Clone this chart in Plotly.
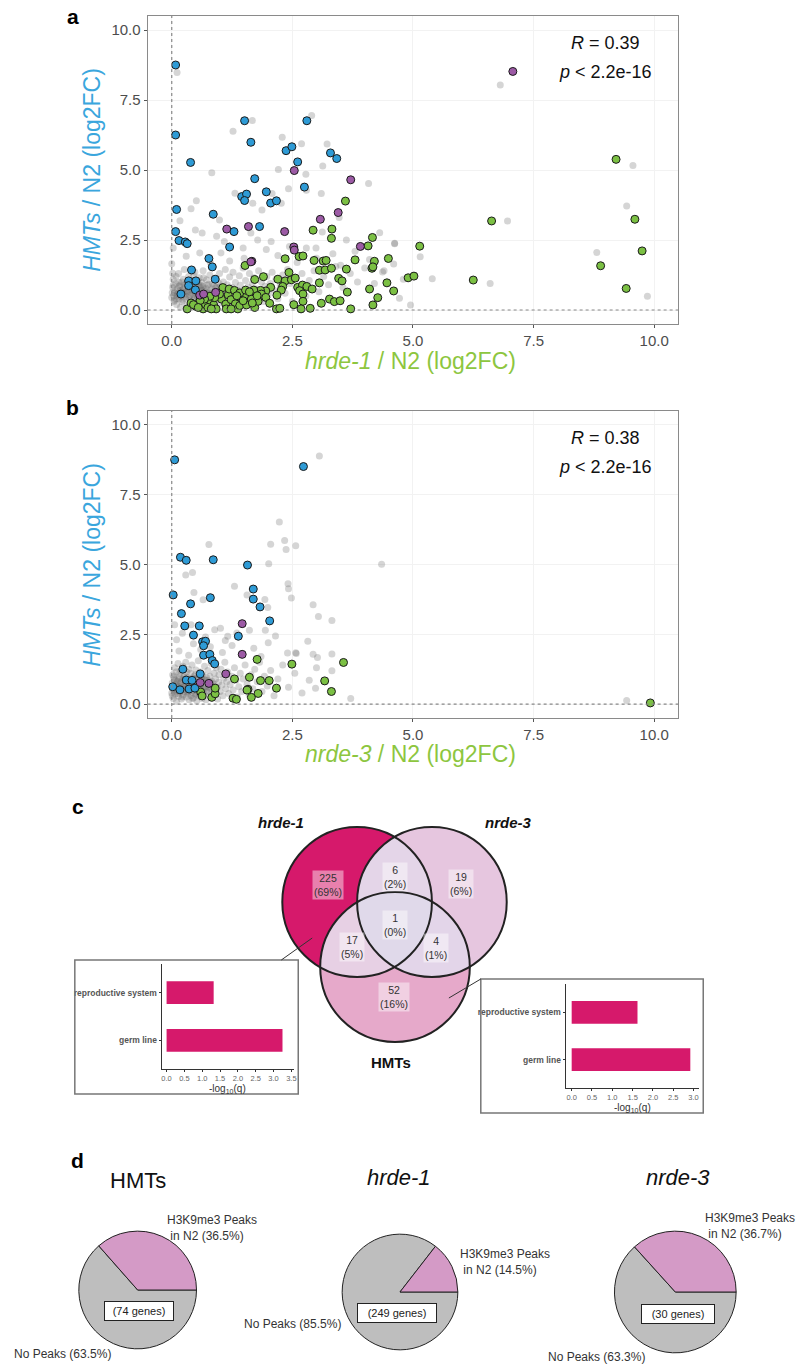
import numpy as np
import plotly.graph_objects as go

W, H = 800, 1370

# ---------------- data ----------------
main_ticks = [0, 2.5, 5, 7.5, 10]

a_blue = [(0.08,8.75),(0.08,6.25),(1.51,6.76),(2.80,6.76),(1.64,5.99),(0.39,5.27),(2.37,5.69),(2.49,5.83),
          (3.29,5.61),(3.42,5.41),(2.61,5.29),(2.75,4.39),(1.72,4.69),(1.45,4.05),(1.55,4.14),(1.51,3.91),
          (1.96,4.22),(2.05,3.82),(2.17,3.90),(0.10,3.59),(0.86,3.42),(0.08,2.80),(1.29,2.80),(1.82,2.98),
          (0.15,2.48),(0.28,2.43),(0.32,2.37),(1.20,2.25),(0.41,1.43),(0.77,1.84),(0.84,1.54),(0.35,1.04),
          (0.50,1.04),(0.90,1.10),(0.35,0.87),(0.49,0.72),(0.19,0.57)]
a_purple = [(7.07,8.52),(2.54,4.98),(3.71,4.65),(3.45,3.48),(3.08,3.24),(1.14,2.89),(1.59,2.98),(2.34,2.80),
            (2.53,2.25),(2.54,2.14),(1.66,1.74),(1.64,1.72),(3.91,2.27),(0.58,0.53),(0.66,0.57),(0.91,0.63)]
a_green = [(6.63,3.18),(9.60,3.24),(9.75,2.11),(8.89,1.58),(9.42,0.77),(6.25,1.07),(5.14,2.28),(4.90,1.15),
           (5.02,1.21),(4.49,1.84),(4.46,0.97),(4.60,0.68),(9.21,5.38),
           (3.60,3.89),(2.93,2.85),(3.32,2.89),(3.31,2.56),(4.16,2.59),(4.07,2.29),(2.35,1.83),(2.64,1.91),
           (2.72,1.93),(2.95,1.77),(3.14,1.75),(3.20,1.77),(3.80,1.79),(4.20,1.74),(4.15,1.49),(4.17,1.54),
           (3.06,1.42),(3.18,1.43),(3.31,1.49),(3.46,1.13),(3.62,1.46),(1.52,1.59),(1.72,1.09),(1.90,1.19),
           (2.20,1.10),(2.35,1.04),(2.48,1.08),(2.56,1.14),(2.43,1.34),(3.06,0.97),(3.53,1.04),(3.64,0.64),
           (4.10,0.75),(4.27,0.44),(2.61,0.81),(2.71,0.89),(2.80,0.84),(2.91,0.75),(2.65,0.69),(2.72,0.57),
           (2.30,0.84),(2.27,0.71),(2.05,0.81),(1.95,0.68),(1.84,0.70),(1.70,0.71),(2.18,0.53),(2.53,0.19),
           (2.72,0.31),(2.17,0.04),(2.24,0.06),(2.68,0.04),(2.87,0.06),(3.10,0.24),(3.27,0.39),(3.37,0.30),
           (3.49,0.33),(3.71,0.04),(4.17,0.18),
           (0.32,0.04),(0.40,0.25),(0.50,0.13),(0.57,0.27),(0.65,0.04),(0.70,0.20),(0.80,0.33),(0.87,0.18),
           (0.92,0.04),(1.03,0.39),(1.12,0.21),(1.17,0.54),(1.23,0.37),(1.32,0.22),(1.37,0.04),(1.44,0.44),
           (1.55,0.51),(1.65,0.39),(1.72,0.09),(1.79,0.31),(1.86,0.57),(1.95,0.45),(2.03,0.24),(1.06,0.80),
           (1.19,0.75),(1.30,0.70),(1.41,0.61),(1.53,0.71),(1.61,0.65),(0.99,0.57),(0.89,0.44),(0.79,0.49),
           (0.68,0.39),(0.59,0.34),(0.45,0.19),(0.55,0.09),(0.75,0.09),(0.82,0.04),(1.13,0.04),(1.23,0.04),
           (1.41,0.16),(1.55,0.18),(1.67,0.25),(1.77,0.51),(1.35,0.51),(1.48,0.33)]
a_gray = [(0.00,0.45),(0.02,0.80),(0.03,1.10),(0.05,0.30),(0.06,0.62),(0.08,0.95),(0.10,0.20),(0.11,0.50),
          (0.12,0.75),(0.14,1.30),(0.15,0.40),(0.17,0.88),(0.18,0.10),(0.20,0.65),(0.21,1.00),(0.23,0.35),
          (0.25,0.78),(0.26,1.45),(0.28,0.55),(0.30,0.92),(0.31,0.15),(0.33,0.70),(0.35,1.20),(0.36,0.45),
          (0.38,0.85),(0.40,0.25),(0.41,0.60),(0.43,1.05),(0.45,0.72),(0.46,0.38),(0.48,1.35),(0.50,0.90),
          (0.52,0.50),(0.53,0.12),(0.55,0.68),(0.57,1.15),(0.58,0.82),(0.60,0.32),(0.62,0.98),(0.63,0.58),
          (0.65,1.40),(0.67,0.75),(0.68,0.22),(0.70,0.48),(0.72,1.08),(0.74,0.88),(0.75,0.62),(0.77,0.30),
          (0.79,1.25),(0.80,0.70),(0.82,0.45),(0.84,0.95),(0.86,1.55),(0.87,0.15),(0.89,0.60),(0.91,0.80),
          (0.93,1.12),(0.95,0.40),(0.97,0.68),(0.99,1.30),(1.01,0.85),(1.03,0.25),(1.05,0.55),(1.07,1.00),
          (1.09,0.72),(1.11,1.45),(1.13,0.35),(1.15,0.90),(1.18,0.62),(1.20,1.18),(1.22,0.42),(1.25,0.80),
          (1.27,1.35),(1.30,0.55),(1.32,0.98),(1.35,0.28),(1.37,0.70),(1.40,1.22),(1.42,0.88),(1.45,0.48),
          (1.48,1.50),(1.50,0.65),(1.53,1.05),(1.56,0.38),(1.58,0.82),(1.61,1.30),(1.64,0.58),(1.67,0.95),
          (1.70,1.15),(1.73,0.45),(1.76,0.75),(1.80,1.40),(1.83,0.62),(1.86,1.00),(1.90,0.30),(1.93,0.85),
          (1.97,1.20),(2.00,0.55),(2.04,0.95),(2.08,1.35),(2.12,0.70),(2.16,1.10),(2.20,0.40),(2.25,0.88),
          (2.30,1.25),(2.35,0.60),(2.40,1.45),(2.45,0.95),(2.50,0.30),(2.55,1.15),(2.62,0.75),(2.70,1.30),
          (2.78,0.50),(2.85,1.05),(2.95,1.40),(3.05,0.65),(3.15,1.20),(3.25,0.90),(3.40,1.55),(3.55,0.80),
          (3.70,1.30),(3.85,1.00),(4.00,1.50),(4.20,0.95),(4.40,1.40),(4.80,1.10),
          (0.04,0.52),(0.07,0.70),(0.09,0.40),(0.13,0.60),(0.16,0.85),(0.19,0.48),(0.22,0.72),(0.24,0.58),
          (0.27,0.90),(0.29,0.40),(0.32,0.65),(0.34,0.80),(0.37,0.52),(0.39,0.95),(0.42,0.68),(0.44,0.55),
          (0.47,0.80),(0.49,0.62),(0.51,0.75),(0.54,0.42),(0.56,0.90),(0.59,0.55),(0.61,0.72),(0.64,0.85),
          (0.66,0.50),(0.69,0.65),(0.71,0.78),(0.73,0.40),(0.76,0.92),(0.78,0.55),(0.81,0.60),(0.83,0.75),
          (0.85,0.52),(0.88,0.88),(0.90,0.65),(0.92,0.50),(0.94,0.80),(0.96,0.58),(0.98,0.95),(1.00,0.62),
          (0.01,0.62),(0.03,0.88),(0.06,0.35),(0.09,1.20),(0.12,0.55),(0.15,0.98),(0.18,0.70),(0.21,0.30),
          (0.24,1.10),(0.27,0.65),(0.30,0.48),(0.33,1.00),(0.36,0.75),(0.39,0.35),(0.42,0.85),(0.45,1.25),
          (0.48,0.45),(0.51,0.65),(0.54,1.05),(0.57,0.38),(0.60,0.88),(0.63,0.70),(0.66,1.15),(0.69,0.30),
          (0.17,3.19),(0.49,2.86),(0.63,2.75),(0.93,2.63),(1.09,2.45),(1.64,2.75),(1.78,2.50),(2.06,2.45),
          (2.44,2.27),(2.79,2.21),(2.99,2.21),(3.34,2.01),(3.62,2.50),(1.96,2.16),(1.48,2.21),(1.02,2.04),
          (0.58,2.04),(0.30,1.92),(0.03,2.21),(0.00,1.65),(0.02,1.31),(0.99,3.21),(3.12,2.79),(3.47,3.30),
          (4.31,2.76),(4.62,2.38),(1.87,3.57),(1.68,3.81),(2.27,3.81),(0.40,3.62),(0.51,3.90),(1.31,4.17),
          (2.08,4.16),(2.42,4.33),(2.79,4.28),(3.10,4.16),(0.83,4.90),(2.21,5.02),(2.78,4.85),(3.13,5.14),
          (4.08,4.52),(1.27,6.38),(2.29,6.17),(2.69,5.94),(3.22,5.93),(0.11,8.48),(1.67,6.77),(2.90,6.95),
          (6.81,8.04),(9.56,5.16),(9.43,3.71),(8.81,2.05),(6.96,3.18),(4.62,2.37),(5.15,1.90),(4.60,1.64),
          (4.37,1.36),(5.40,1.12),(6.60,0.95),(4.72,0.42),(4.95,0.18),(9.86,0.49),(1.20,1.75),(2.60,1.70),
          (3.00,1.85),(3.80,2.10),(1.50,1.85),(0.80,1.70),(2.20,1.95),(4.10,1.80),(3.50,1.60)]

b_blue = [(0.06,8.75),(2.73,8.51),(0.18,5.26),(0.30,5.15),(0.86,5.17),(1.57,4.98),(0.03,3.91),(0.80,3.81),
          (1.69,4.12),(1.69,3.76),(1.83,3.48),(0.39,3.59),(0.20,3.24),(0.27,2.80),(0.57,2.80),(0.45,2.47),
          (2.03,2.98),(1.38,2.43),(0.64,2.23),(0.70,2.25),(0.66,2.09),(0.66,1.75),(0.79,1.78),(0.84,1.56),
          (0.89,1.44),(0.23,1.25),(0.59,1.08),(0.30,0.86),(0.42,0.85),(0.02,0.62),(0.17,0.51),(0.36,0.54),
          (0.48,0.57)]
b_purple = [(1.46,2.88),(1.46,1.78),(1.12,1.08),(0.59,0.77),(0.77,0.74)]
b_green = [(1.77,1.60),(2.49,1.43),(3.56,1.49),(1.30,0.90),(1.61,0.96),(1.84,0.84),(2.02,0.84),(1.58,0.53),
           (1.56,0.50),(1.79,0.38),(2.17,0.57),(3.17,0.83),(3.31,0.45),(1.65,0.24),(1.27,0.21),(1.34,0.17),
           (0.60,0.43),(0.63,0.29),(0.83,0.24),(0.90,0.37),(0.90,0.57),(9.92,0.04)]
b_gray = [(0.00,0.40),(0.01,0.75),(0.02,1.05),(0.03,0.20),(0.04,0.58),(0.05,0.90),(0.06,1.30),(0.07,0.35),
          (0.08,0.68),(0.09,1.15),(0.10,0.10),(0.11,0.50),(0.12,0.82),(0.13,1.45),(0.14,0.28),(0.15,0.62),
          (0.16,0.98),(0.17,0.42),(0.18,0.75),(0.19,1.20),(0.20,0.18),(0.21,0.55),(0.22,0.88),(0.23,1.35),
          (0.24,0.32),(0.25,0.70),(0.26,1.02),(0.27,0.45),(0.28,0.80),(0.29,1.50),(0.30,0.25),(0.31,0.60),
          (0.32,0.95),(0.33,0.38),(0.34,0.72),(0.35,1.25),(0.36,0.15),(0.37,0.52),(0.38,0.85),(0.39,1.10),
          (0.40,0.30),(0.41,0.65),(0.42,1.40),(0.43,0.48),(0.44,0.78),(0.45,0.22),(0.46,1.00),(0.47,0.58),
          (0.48,0.90),(0.49,0.35),(0.50,1.22),(0.51,0.70),(0.52,0.12),(0.53,0.45),(0.54,0.95),(0.55,1.55),
          (0.56,0.62),(0.57,0.28),(0.58,0.82),(0.59,1.15),(0.60,0.50),(0.62,0.75),(0.63,0.20),(0.64,1.05),
          (0.66,0.40),(0.67,0.88),(0.68,1.35),(0.70,0.60),(0.71,0.15),(0.72,0.95),(0.74,0.45),(0.75,1.20),
          (0.76,0.70),(0.78,0.30),(0.79,1.00),(0.80,0.55),(0.82,1.45),(0.83,0.82),(0.85,0.25),(0.86,0.65),
          (0.88,1.10),(0.89,0.40),(0.91,0.90),(0.92,1.30),(0.94,0.58),(0.95,0.18),(0.97,0.78),(0.98,1.05),
          (1.00,0.45),(1.02,1.25),(1.04,0.68),(1.06,0.30),(1.08,0.92),(1.10,1.50),(1.12,0.55),(1.14,0.80),
          (1.16,1.15),(1.18,0.38),(1.21,0.70),(1.24,1.00),(1.27,0.50),(1.30,1.30),(1.33,0.85),(1.36,0.25),
          (1.39,0.62),(1.42,1.10),(1.45,0.45),(1.48,0.90),(1.52,1.40),(1.56,0.70),(1.60,0.35),(1.64,1.05),
          (1.68,0.55),(1.72,1.25),(1.77,0.80),(1.82,1.50),(1.87,0.45),(1.92,1.00),(1.98,0.65),(2.05,1.20),
          (2.12,0.30),(2.20,0.90),(2.30,1.40),(2.42,0.60),(2.55,1.10),(2.70,0.40),(2.85,0.85),(3.00,1.30),
          (0.02,0.55),(0.05,0.45),(0.08,0.85),(0.11,0.65),(0.14,0.90),(0.17,0.55),(0.20,0.80),(0.23,0.50),
          (0.26,0.62),(0.29,0.88),(0.32,0.48),(0.35,0.58),(0.38,0.70),(0.41,0.42),(0.44,0.92),(0.47,0.68),
          (0.50,0.55),(0.53,0.78),(0.56,0.40),(0.59,0.62),(0.62,0.88),(0.65,0.52),(0.68,0.72),(0.71,0.48),
          (0.74,0.85),(0.77,0.60),(0.80,0.78),(0.84,0.50),(0.87,0.72),(0.90,0.60),
          (0.01,0.30),(0.04,0.98),(0.07,0.50),(0.10,0.75),(0.13,0.38),(0.16,1.10),(0.19,0.62),(0.22,0.25),
          (0.25,0.95),(0.28,0.58),(0.31,1.15),(0.34,0.42),(0.37,0.90),(0.40,0.60),(0.43,0.20),(0.46,0.80),
          (0.49,1.05),(0.52,0.35),(0.55,0.75),(0.58,0.50),(0.61,1.00),(0.64,0.32),(0.67,0.62),(0.70,0.85),
          (3.06,8.89),(2.23,6.52),(2.05,5.73),(2.34,5.86),(2.37,5.54),(2.57,5.67),(0.77,5.72),(2.01,5.03),
          (4.35,5.01),(0.29,4.62),(0.43,4.71),(1.30,4.22),(0.46,4.00),(2.42,4.13),(2.48,3.80),(0.65,3.74),
          (1.56,3.91),(2.93,3.56),(3.04,3.14),(3.32,2.99),(1.93,3.75),(1.99,3.46),(1.94,2.64),(1.61,2.64),
          (2.15,2.44),(2.82,2.25),(2.57,1.84),(2.93,1.78),(3.32,1.79),(0.06,2.84),(0.22,2.54),(0.40,2.84),
          (0.89,2.66),(1.01,2.72),(1.16,2.43),(1.11,2.28),(0.45,2.16),(2.41,4.31),(3.02,1.67),(3.32,1.19),
          (3.71,0.20),(2.98,0.57),(2.58,1.81),(2.40,1.83),(9.43,0.13),(0.15,1.90),(0.35,1.75),(0.60,1.95),
          (0.80,2.05),(1.05,1.85),(1.25,2.10),(1.45,1.80),(1.70,2.00),(1.85,1.70),(2.00,2.20),(0.10,2.30),
          (0.70,2.40),(1.35,2.55)]

stats_a = ["0.39", "2.2e-16"]
stats_b = ["0.38", "2.2e-16"]

# Venn counts
venn_labels = {"A": "225", "AB": "6", "B": "19", "ABC": "1", "AC": "17", "BC": "4", "C": "52"}
venn_pct = {"A": "69%", "AB": "2%", "B": "6%", "ABC": "0%", "AC": "5%", "BC": "1%", "C": "16%"}

# Enrichment insets
go_terms = ["germ line", "reproductive system"]
hrde1_q = [3.25, 1.32]
hmts_q = [2.92, 1.62]

# Pies
pie_names = ["HMTs", "hrde-1", "nrde-3"]
pie_peaks = [36.5, 14.5, 36.7]
pie_nopeaks = [63.5, 85.5, 63.3]
pie_genes = [74, 249, 30]

# ---------------- styling ----------------
FONT = "Liberation Sans, Arial, sans-serif"
GREEN, BLUE, PURPLE = "#7BC043", "#2E9BD6", "#9C5AA5"
TITLE_GREEN, TITLE_BLUE = "#8DC63F", "#3AA6DD"
MAGENTA = "#D6196B"

fig = go.Figure()

def add_pts(pts, xa, ya, color, size, line):
    fig.add_trace(go.Scatter(x=[p[0] for p in pts], y=[p[1] for p in pts], mode="markers",
                             xaxis=xa, yaxis=ya, hoverinfo="skip", showlegend=False,
                             marker=dict(color=color, size=size, line=line)))

for (gray, green, blue, purple, xa, ya) in [(a_gray, a_green, a_blue, a_purple, "x", "y"),
                                             (b_gray, b_green, b_blue, b_purple, "x2", "y2")]:
    add_pts(gray, xa, ya, "rgba(105,105,105,0.28)", 7, dict(width=0))
    add_pts(green, xa, ya, GREEN, 8, dict(width=1, color="#1a1a1a"))
    add_pts(blue, xa, ya, BLUE, 8, dict(width=1, color="#1a1a1a"))
    add_pts(purple, xa, ya, PURPLE, 8, dict(width=1, color="#1a1a1a"))

# inset bars
fig.add_trace(go.Bar(x=hrde1_q, y=[1, 2], orientation="h", width=0.48, xaxis="x3", yaxis="y3",
                     marker=dict(color=MAGENTA, line=dict(width=0)), hoverinfo="skip", showlegend=False))
fig.add_trace(go.Bar(x=hmts_q, y=[1, 2], orientation="h", width=0.48, xaxis="x4", yaxis="y4",
                     marker=dict(color=MAGENTA, line=dict(width=0)), hoverinfo="skip", showlegend=False))

# canvas dummy
fig.add_trace(go.Scatter(x=[None], y=[None], xaxis="x5", yaxis="y5", showlegend=False, hoverinfo="skip"))

# pies (gray slice first, drawn clockwise from 3 o'clock, so the peaks slice sits above the 3 o'clock radius)
pie_geo = [(138, 1290, 59), (401, 1292, 58), (677, 1292, 61)]
for i, (cx, cy, r) in enumerate(pie_geo):
    fig.add_trace(go.Pie(values=[pie_nopeaks[i], pie_peaks[i]], labels=["No Peaks", "H3K9me3 Peaks in N2"],
                         marker=dict(colors=["#BEBEBE", "#D49AC6"], line=dict(color="#222", width=1)),
                         sort=False, direction="clockwise", rotation=90, textinfo="none",
                         hoverinfo="skip", showlegend=False,
                         domain=dict(x=[(cx - r) / W, (cx + r) / W], y=[1 - (cy + r) / H, 1 - (cy - r) / H])))

main_ax = dict(range=[-0.5, 10.5], tickvals=main_ticks, ticktext=["%.1f" % t for t in main_ticks],
               showline=True, mirror=True, linecolor="#8a8a8a", linewidth=1, ticks="outside", ticklen=3,
               tickcolor="#555", tickfont=dict(size=15, color="#4d4d4d", family=FONT), showgrid=True,
               gridcolor="#f2f2f2", zeroline=False)

def inset_x(dom, rng, tv):
    return dict(domain=dom, range=rng, tickvals=tv, ticktext=["%.1f" % t for t in tv], showline=True,
                linecolor="#333", linewidth=1, ticks="outside", ticklen=2, tickcolor="#333",
                tickfont=dict(size=7.5, color="#666", family=FONT), showgrid=False, zeroline=False)

def inset_y(dom):
    return dict(domain=dom, range=[0.4, 2.6], tickvals=[1, 2],
                ticktext=["<b>%s</b>" % t for t in go_terms], showline=True, linecolor="#333",
                linewidth=1, ticks="outside", ticklen=2, tickcolor="#333",
                tickfont=dict(size=8.5, color="#555", family=FONT), showgrid=False, zeroline=False)

layout = dict(
    width=W, height=H, margin=dict(l=0, r=0, t=0, b=0), paper_bgcolor="white",
    plot_bgcolor="rgba(0,0,0,0)", font=dict(family=FONT, color="#222"), showlegend=False,
    xaxis=dict(domain=[148 / W, 680 / W], anchor="y", **main_ax),
    yaxis=dict(domain=[1 - 324 / H, 1 - 16 / H], anchor="x", **main_ax),
    xaxis2=dict(domain=[148 / W, 680 / W], anchor="y2", **main_ax),
    yaxis2=dict(domain=[1 - 718 / H, 1 - 411 / H], anchor="x2", **main_ax),
    xaxis3=dict(anchor="y3", **inset_x([162 / W, 295 / W], [-0.14, 3.58], [0, 0.5, 1, 1.5, 2, 2.5, 3, 3.5])),
    yaxis3=dict(anchor="x3", **inset_y([1 - 1069 / H, 1 - 964 / H])),
    xaxis4=dict(anchor="y4", **inset_x([567 / W, 701 / W], [-0.15, 3.14], [0, 0.5, 1, 1.5, 2, 2.5, 3])),
    yaxis4=dict(anchor="x4", **inset_y([1 - 1088 / H, 1 - 984 / H])),
    xaxis5=dict(domain=[0, 1], range=[0, W], visible=False, anchor="y5", fixedrange=True),
    yaxis5=dict(domain=[0, 1], range=[H, 0], visible=False, anchor="x5", fixedrange=True),
)
fig.update_layout(**layout)

shapes = []
ann = []

def A(x, y, text, size, color="#222", **kw):
    d = dict(x=x, y=y, xref="x5", yref="y5", text=text, showarrow=False,
             font=dict(size=size, color=color, family=FONT))
    d.update(kw)
    ann.append(d)

# dotted reference lines
for xa, ya in [("x", "y"), ("x2", "y2")]:
    shapes.append(dict(type="line", xref=xa, yref=ya + " domain", x0=0, x1=0, y0=0, y1=1,
                       line=dict(color="#888", width=1.2, dash="dot")))
    shapes.append(dict(type="line", xref=xa + " domain", yref=ya, x0=0, x1=1, y0=0, y1=0,
                       line=dict(color="#888", width=1.2, dash="dot")))

# panel labels
for lab, x, y in [("a", 73, 16), ("b", 73, 407), ("c", 78, 806), ("d", 78, 1160)]:
    A(x, y, "<b>%s</b>" % lab, 21, "#000")

# axis titles
A(412, 361, "<i>hrde-1</i> / N2 (log2FC)", 23, TITLE_GREEN)
A(412, 754, "<i>nrde-3</i> / N2 (log2FC)", 23, TITLE_GREEN)
A(92, 170, "<i>HMTs</i> / N2 (log2FC)", 23, TITLE_BLUE, textangle=-90)
A(92, 565, "<i>HMTs</i> / N2 (log2FC)", 23, TITLE_BLUE, textangle=-90)

# stats
for (st, y0) in [(stats_a, 43), (stats_b, 438)]:
    A(607, y0, "<i>R</i> = %s" % st[0], 18, "#111")
    A(607, y0 + 29, "<i>p</i> < %s" % st[1], 18, "#111")

# ---------------- Venn ----------------
cA, cB, cC, R = (358, 902), (433, 902), (396, 967), 75
circles = {"A": cA, "B": cB, "C": cC}

def circ_pts(c, r, n=720):
    t = np.linspace(0, 2 * np.pi, n, endpoint=False)
    return np.c_[c[0] + r * np.cos(t), c[1] + r * np.sin(t)]

def inside(P, c, r):
    return (P[:, 0] - c[0]) ** 2 + (P[:, 1] - c[1]) ** 2 <= r * r + 1e-6

def region_path(keys):
    pts = []
    for k in keys:
        P = circ_pts(circles[k], R)
        m = np.ones(len(P), bool)
        for k2 in keys:
            if k2 != k:
                m &= inside(P, circles[k2], R)
        pts.append(P[m])
    P = np.vstack(pts)
    cen = P.mean(0)
    P = P[np.argsort(np.arctan2(P[:, 1] - cen[1], P[:, 0] - cen[0]))]
    return "M " + " L ".join("%.2f,%.2f" % (p[0], p[1]) for p in P) + " Z"

fills = [("A", MAGENTA), ("B", "#E6C6DF"), ("C", "#E6A9CA")]
for k, col in fills:
    c = circles[k]
    shapes.append(dict(type="circle", xref="x5", yref="y5", x0=c[0] - R, x1=c[0] + R, y0=c[1] - R,
                       y1=c[1] + R, fillcolor=col, line=dict(width=0), layer="above"))
for keys, col in [("AB", "#E4D5E8"), ("AC", "#E7D0E4"), ("BC", "#E3D5E9"), ("ABC", "#E0D9EA")]:
    shapes.append(dict(type="path", xref="x5", yref="y5", path=region_path(keys), fillcolor=col,
                       line=dict(width=0), layer="above"))
for k in "ABC":
    c = circles[k]
    shapes.append(dict(type="circle", xref="x5", yref="y5", x0=c[0] - R, x1=c[0] + R, y0=c[1] - R,
                       y1=c[1] + R, line=dict(color="#222", width=2), layer="above"))

venn_pos = {"A": (329, 885), "AB": (396, 877), "B": (462, 884), "ABC": (396, 925), "AC": (353, 947),
            "BC": (437, 948), "C": (395, 997)}
for k, (x, y) in venn_pos.items():
    A(x, y, "%s<br>(%s)" % (venn_labels[k], venn_pct[k]), 10.5, "#333",
      bgcolor="rgba(255,255,255,0.45)", borderpad=1)

A(282, 822, "<b><i>hrde-1</i></b>", 15, "#111")
A(510, 822, "<b><i>nrde-3</i></b>", 15, "#111")
A(392, 1062, "<b>HMTs</b>", 15, "#111")

# inset boxes and connectors
for (x0, y0, x1, y1) in [(75, 960, 299, 1094), (482, 979, 705, 1113)]:
    shapes.append(dict(type="rect", xref="x5", yref="y5", x0=x0, x1=x1, y0=y0, y1=y1,
                       line=dict(color="#777", width=1.5)))
shapes.append(dict(type="line", xref="x5", yref="y5", x0=282, y0=960, x1=313, y1=938,
                   line=dict(color="#333", width=1), layer="above"))
shapes.append(dict(type="line", xref="x5", yref="y5", x0=482, y0=979, x1=450, y1=998,
                   line=dict(color="#333", width=1), layer="above"))
A(228, 1089, "-log<sub>10</sub>(q)", 10, "#333")
A(634, 1108, "-log<sub>10</sub>(q)", 10, "#333")

# ---------------- Pies ----------------
A(138, 1180, "HMTs", 22, "#111")
A(400, 1177, "<i>hrde-1</i>", 22, "#111")
A(680, 1177, "<i>nrde-3</i>", 22, "#111")

gene_box = [(139, 1311, 62), (398, 1313, 72), (680, 1314, 66)]
for i, (x, y, w) in enumerate(gene_box):
    A(x, y, "(%d genes)" % pie_genes[i], 11, "#222", bgcolor="white", bordercolor="#222",
      borderwidth=1, borderpad=3, width=w)

peak_pos = [(165, 1228), (459, 1262), (705, 1226)]
nopeak_pos = [(113, 1354), (344, 1324), (649, 1357)]
for i in range(3):
    A(peak_pos[i][0], peak_pos[i][1], "H3K9me3 Peaks<br> in N2 (%.1f%%)" % pie_peaks[i], 12, "#333",
      xanchor="left", align="left")
    A(nopeak_pos[i][0], nopeak_pos[i][1], "No Peaks (%.1f%%)" % pie_nopeaks[i], 12, "#333",
      xanchor="right")

fig.update_layout(shapes=shapes, annotations=ann)
fig.write_html("out.html")
